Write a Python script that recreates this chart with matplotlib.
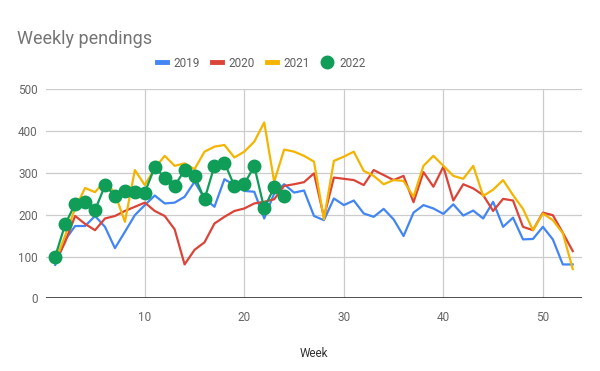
import matplotlib
matplotlib.use("Agg")
import matplotlib.pyplot as plt
import numpy as np

# weekly pendings per year
weeks = np.arange(1, 54)
y2019 = [80, 140, 173, 173, 197, 171, 120, 159, 199, 223,
         246, 227, 229, 243, 279, 239, 219, 285, 271, 257,
         255, 191, 251, 273, 253, 258, 197, 187, 239, 223,
         234, 203, 195, 214, 189, 149, 205, 223, 215, 202,
         225, 198, 210, 191, 231, 171, 193, 141, 142, 171,
         141, 81, 81]
y2020 = [85, 135, 197, 178, 163, 191, 197, 209, 219, 229,
         209, 197, 165, 81, 116, 134, 179, 195, 209, 215,
         227, 231, 237, 269, 273, 278, 299, 194, 289, 286,
         283, 271, 307, 295, 283, 293, 230, 302, 267, 315,
         234, 273, 263, 247, 209, 238, 234, 171, 163, 205,
         199, 157, 113]
y2021 = [88, 150, 215, 264, 254, 282, 251, 183, 307, 271,
         311, 341, 317, 323, 309, 351, 363, 367, 337, 351,
         375, 421, 279, 356, 351, 341, 327, 189, 329, 339,
         351, 305, 293, 273, 283, 281, 243, 317, 341, 317,
         293, 286, 317, 245, 260, 283, 247, 214, 163, 203,
         187, 156, 70]
y2022 = [100, 177, 226, 230, 211, 270, 246, 256, 254, 253,
         314, 289, 269, 307, 293, 237, 317, 325, 269, 274,
         316, 215, 266, 246]

plt.rcParams["font.family"] = ["Roboto", "DejaVu Sans"]

fig = plt.figure(figsize=(6, 3.71), dpi=100)
ax = fig.add_axes([0.0767, 0.196, 0.8928, 0.563])

ax.plot(weeks, y2019, color="#4285F4", lw=1.6, label="2019")
ax.plot(weeks, y2020, color="#DB4437", lw=1.6, label="2020")
ax.plot(weeks, y2021, color="#F4B400", lw=1.6, label="2021")
ax.plot(weeks[:len(y2022)], y2022, color="#0F9D58", lw=1.6, marker="o",
        markersize=9, label="2022")

ax.set_xlim(0.075, 53.9)
ax.set_ylim(0, 500)
ax.set_xticks([10, 20, 30, 40, 50])
ax.set_yticks(range(0, 501, 100))
ax.grid(True, color="#cccccc", lw=0.9)
ax.set_axisbelow(True)
for side in ["top", "right", "left", "bottom"]:
    ax.spines[side].set_visible(False)
ax.axhline(0, color="#333333", lw=1.2, zorder=1)
ax.tick_params(length=0, labelsize=8.5, labelcolor="#666666", pad=6)
ax.tick_params(axis="x", pad=9)
ax.set_xlabel("Week", fontsize=8.5, color="#333333", labelpad=17)

fig.text(0.028, 0.895, "Weekly pendings", fontsize=13, color="#757575", va="center")

handles, labels = ax.get_legend_handles_labels()
leg = fig.legend(handles, labels, loc="center", bbox_to_anchor=(0.435, 0.83),
                 ncol=4, frameon=False, fontsize=8.5, handlelength=0.85,
                 handletextpad=0.55, columnspacing=1.05, labelcolor="#5f5f5f")
for h in leg.legend_handles[:3]:
    h.set_linewidth(3.5)
leg.legend_handles[3].set_linestyle("none")

fig.savefig("out.png", dpi=100)
